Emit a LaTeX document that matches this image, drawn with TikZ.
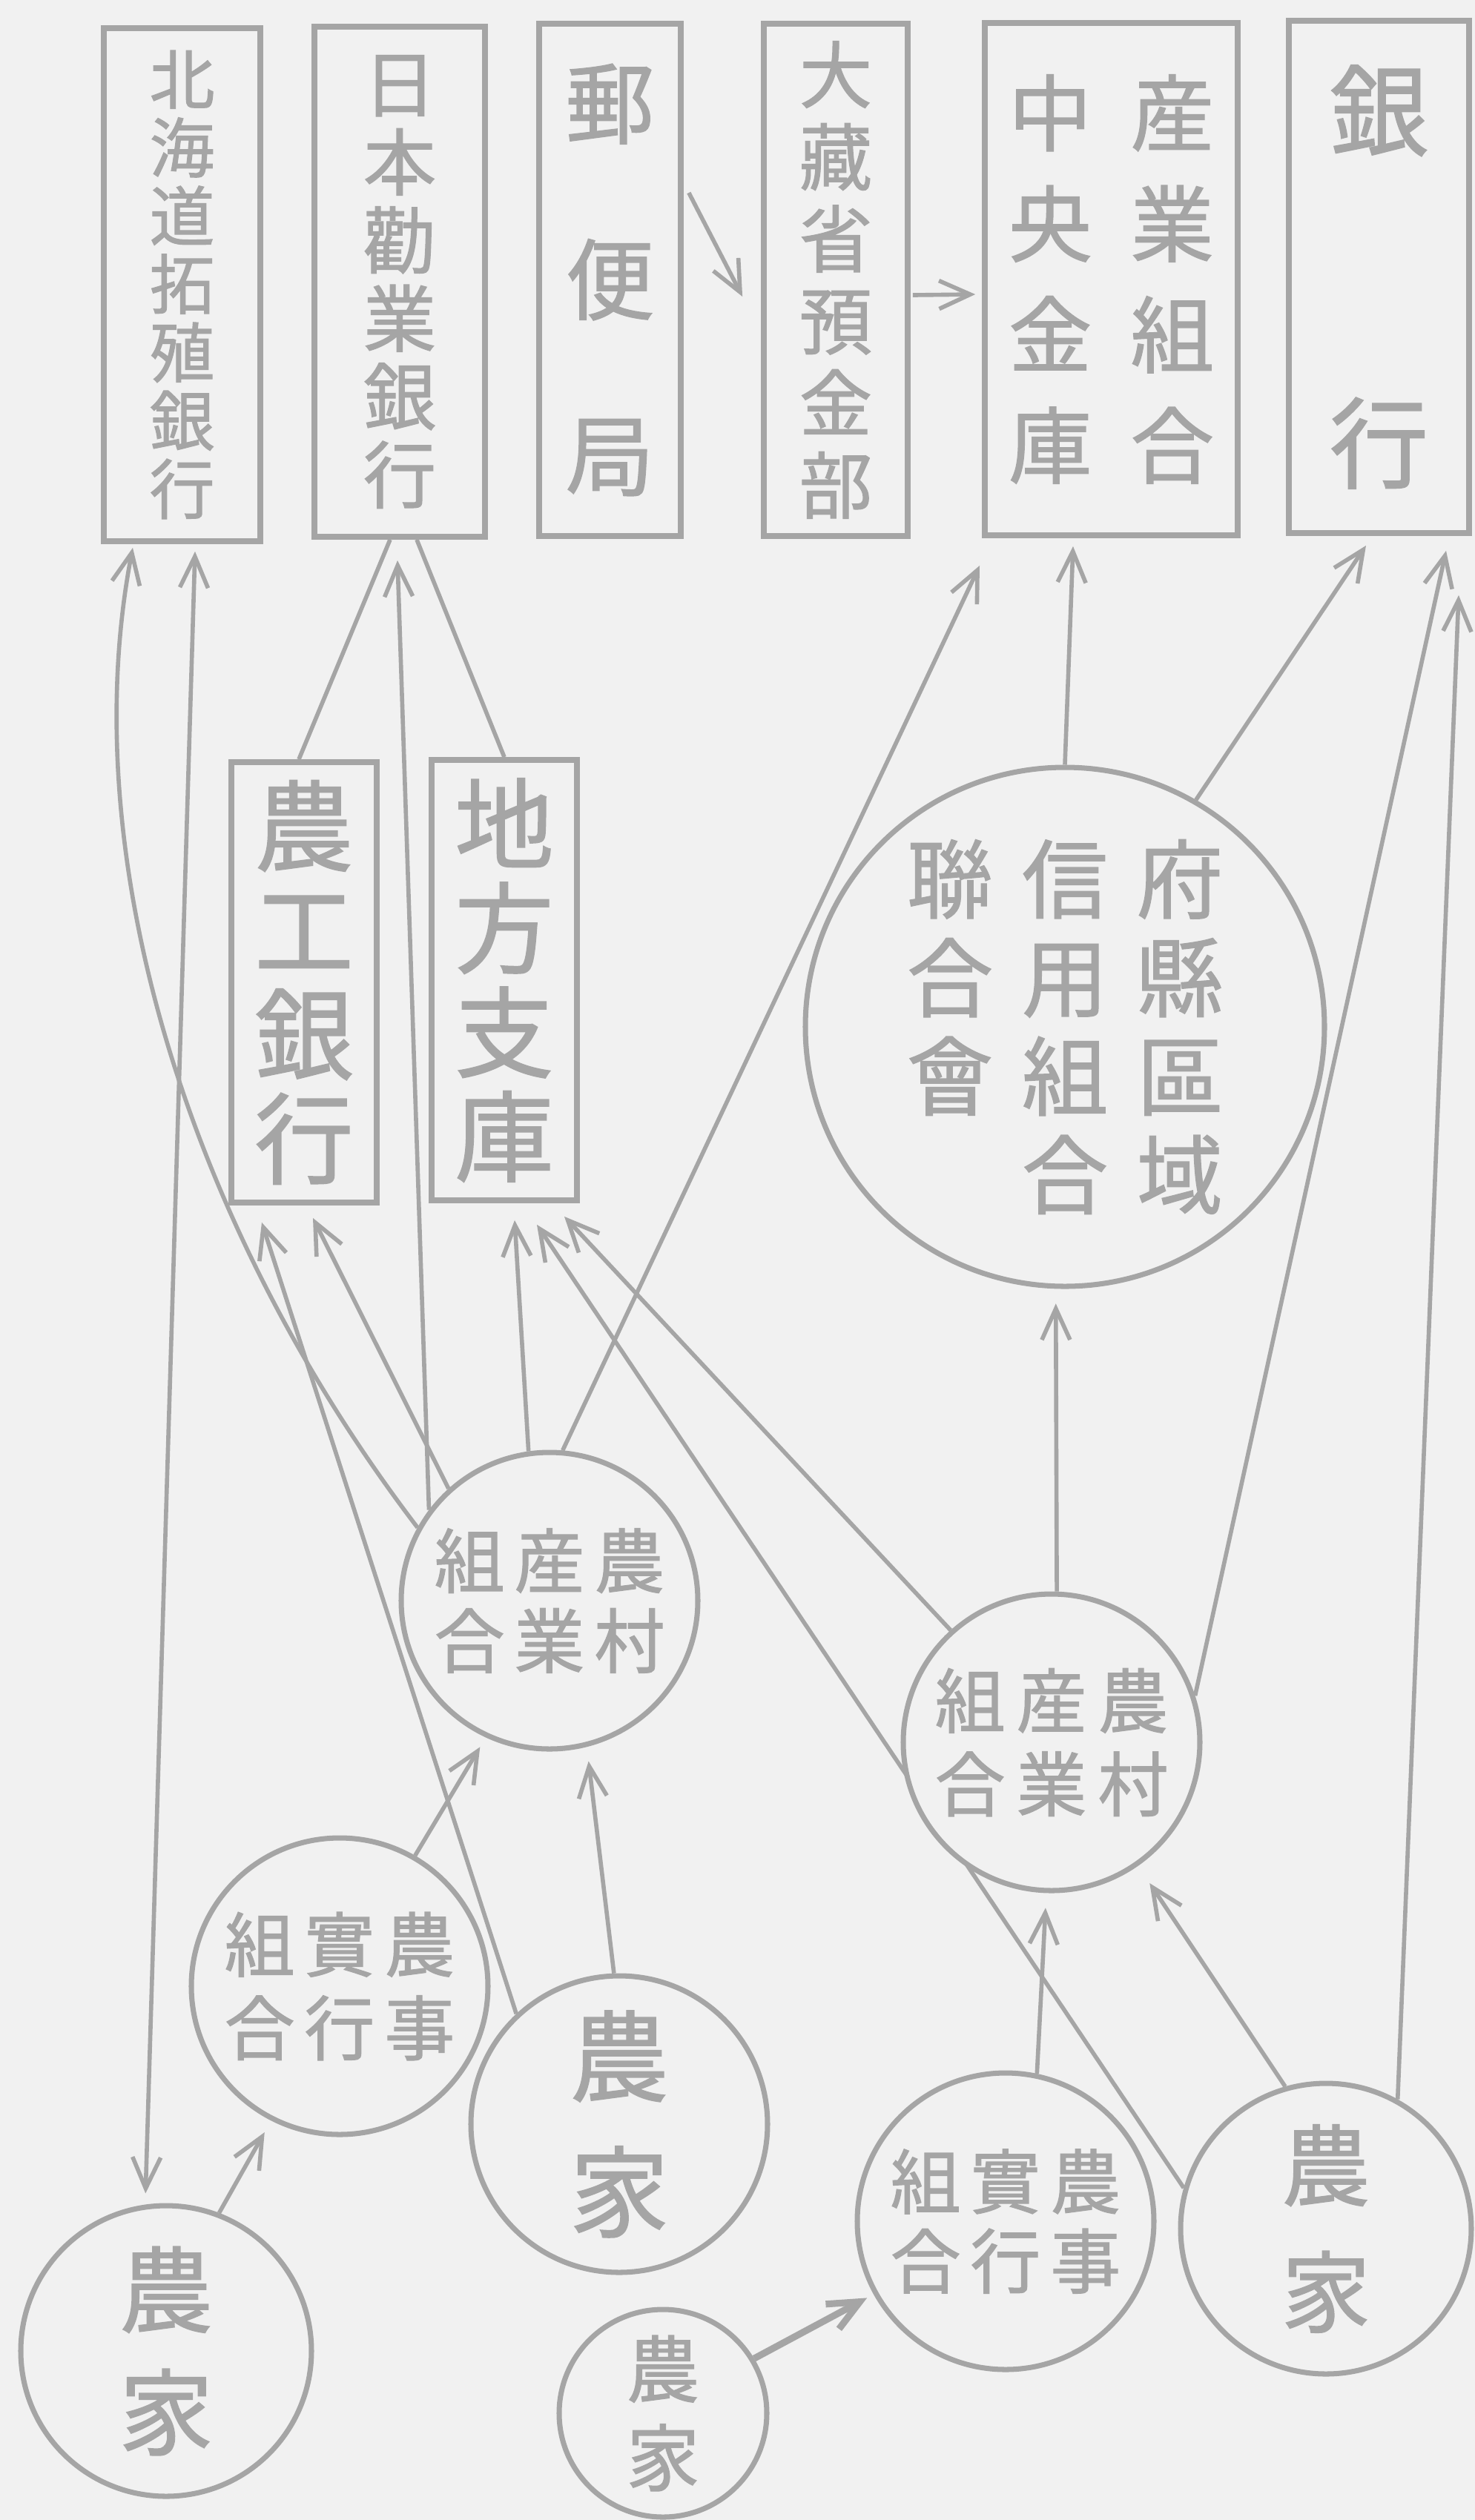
\documentclass[tikz,border=0pt]{standalone}
\usepackage{fontspec}
\newfontfamily\jp{Noto Sans CJK JP}[FakeBold=1.2]
\usetikzlibrary{shapes.geometric, arrows.meta}
\definecolor{ink}{RGB}{165,165,165}
\definecolor{paper}{RGB}{241,241,241}
\pgfdeclarelayer{paper}
\pgfdeclarelayer{lines}
\pgfsetlayers{paper,lines,main}
\tikzstyle{bank} = [rectangle, draw=ink, line width=2.2pt, fill=paper, text=ink, align=center, inner sep=0pt, minimum height=6.91cm]
\tikzstyle{group} = [circle, draw=ink, line width=2pt, fill=paper, text=ink, align=center, inner sep=0pt, minimum size=4cm]
\tikzstyle{arrow} = [draw=ink, line width=1.6pt, -{Straight Barb[length=4.2mm,width=3.8mm]}]
\tikzstyle{twoway} = [draw=ink, line width=1.6pt, {Straight Barb[length=4.2mm,width=3.8mm]}-{Straight Barb[length=4.2mm,width=3.8mm]}]
\tikzstyle{link} = [draw=ink, line width=1.6pt]

\begin{document}
\begin{tikzpicture}

\useasboundingbox (0,0) rectangle (19.89,-33.99);
\begin{pgfonlayer}{paper}
\fill [paper] (0,0) rectangle (19.89,-33.99);
\end{pgfonlayer}

% top row
\node (hokkaido) [bank, minimum width=2.11cm, minimum height=6.92cm, font=\jp\fontsize{25}{26.2}\selectfont] at (2.455,-3.84) {北\\海\\道\\拓\\殖\\銀\\行};
\node (kangyo) [bank, minimum width=2.30cm, minimum height=6.88cm, font=\jp\fontsize{28}{30}\selectfont] at (5.39,-3.80) {日\\本\\勸\\業\\銀\\行};
\node (yubin) [bank, minimum width=1.91cm, font=\jp\fontsize{34}{67.5}\selectfont] at (8.225,-3.775) {郵\\便\\局};
\node (okura) [bank, minimum width=1.94cm, font=\jp\fontsize{28}{31.5}\selectfont] at (11.27,-3.775) {大\\藏\\省\\預\\金\\部};
\node (chuo) [bank, minimum width=3.41cm, font=\jp\fontsize{32}{42.5}\selectfont] at (14.985,-3.765) {中\hspace{0.52cm}産\\央\hspace{0.52cm}業\\金\hspace{0.52cm}組\\庫\hspace{0.52cm}合};
\node (ginko) [bank, minimum width=2.43cm, font=\jp\fontsize{38}{127.6}\selectfont] at (18.595,-3.735) {銀\\行};

% middle
\node (noko) [bank, minimum width=1.96cm, minimum height=5.94cm, font=\jp\fontsize{38}{40}\selectfont] at (4.10,-13.25) {農\\工\\銀\\行};
\node (chiho) [bank, minimum width=1.96cm, minimum height=5.94cm, font=\jp\fontsize{38}{40}\selectfont] at (6.80,-13.22) {地\\方\\支\\庫};
\node (kenren) [group, minimum size=7cm, font=\jp\fontsize{33}{37.8}\selectfont] at (14.36,-13.85) {聯\hspace{0.39cm}信\hspace{0.39cm}府\\合\hspace{0.39cm}用\hspace{0.39cm}縣\\會\hspace{0.39cm}組\hspace{0.39cm}區\\\phantom{會}\hspace{0.39cm}合\hspace{0.39cm}域};

% cooperatives and farms
\node (coopL) [group, font=\jp\fontsize{27}{30.7}\selectfont] at (7.41,-21.59) {組\hspace{0.13cm}産\hspace{0.13cm}農\\合\hspace{0.13cm}業\hspace{0.13cm}村};
\node (coopR) [group, font=\jp\fontsize{27}{32}\selectfont] at (14.18,-23.50) {組\hspace{0.15cm}産\hspace{0.15cm}農\\合\hspace{0.15cm}業\hspace{0.15cm}村};
\node (assocL) [group, font=\jp\fontsize{27}{32}\selectfont] at (4.58,-26.79) {組\hspace{0.13cm}實\hspace{0.13cm}農\\合\hspace{0.13cm}行\hspace{0.13cm}事};
\node (assocR) [group, font=\jp\fontsize{27}{30.5}\selectfont] at (13.56,-29.96) {組\hspace{0.13cm}實\hspace{0.13cm}農\\合\hspace{0.13cm}行\hspace{0.13cm}事};
\node (farmM) [group, font=\jp\fontsize{38}{52}\selectfont] at (8.35,-28.65) {農\\家};
\node (farmBL) [group, minimum size=3.92cm, font=\jp\fontsize{36}{47}\selectfont] at (2.24,-31.71) {農\\家};
\node (farmS) [group, minimum size=2.8cm, font=\jp\fontsize{28}{34}\selectfont] at (8.94,-32.55) {農\\家};
\node (farmR) [group, minimum size=3.92cm, font=\jp\fontsize{34}{48.5}\selectfont] at (17.88,-30.06) {農\\家};

\begin{pgfonlayer}{lines}
\draw [arrow] ([xshift=0.07cm,yshift=1.175cm]yubin.east) -- ([xshift=-0.25cm,yshift=-0.225cm]okura.west);
\draw [arrow] ([xshift=0.03cm,yshift=-0.205cm]okura.east) -- ([xshift=-0.09cm,yshift=-0.205cm]chuo.west);
\draw [link] ([xshift=-0.13cm]kangyo.south) -- ([xshift=-0.07cm]noko.north);
\draw [link] ([xshift=0.23cm]kangyo.south) -- (chiho.north);

\draw [arrow] (coopL.151) .. controls (2.5,-16.5) and (1.0,-11.5) .. ([xshift=-0.665cm,yshift=-0.05cm]hokkaido.south);
\draw [twoway] ([xshift=0.175cm,yshift=-0.1cm]hokkaido.south) -- ([yshift=0.15cm]farmBL.98);
\draw [arrow] (coopL.143) -- ([xshift=-0.03cm,yshift=-0.28cm]kangyo.south);
\draw [arrow] (coopL.132) -- ([xshift=0.12cm,yshift=-0.17cm]noko.south);
\draw [arrow] (farmM.133) -- ([xshift=-0.57cm,yshift=-0.23cm]noko.south);
\draw [arrow] (coopL.98) -- ([xshift=0.14cm,yshift=-0.23cm]chiho.south);
\draw [arrow] (coopL.85) -- ([xshift=-1.775cm,yshift=-0.37cm]chuo.south);
\draw [arrow] (farmR.164) -- ([xshift=0.44cm,yshift=-0.29cm]chiho.south);
\draw [arrow] (coopR.132) -- ([xshift=0.81cm,yshift=-0.18cm]chiho.south);

\draw [arrow] (kenren.90) -- ([xshift=-0.515cm,yshift=-0.11cm]chuo.south);
\draw [arrow] (kenren.60) -- ([xshift=-0.175cm,yshift=-0.13cm]ginko.south);
\draw [arrow] (coopR.18) -- ([xshift=0.905cm,yshift=-0.2cm]ginko.south);
\draw [arrow] (farmR.61) -- ([xshift=1.075cm,yshift=-0.8cm]ginko.south);
\draw [arrow, shorten >=0.2cm] (coopR.88) -- (kenren.268);

\draw [arrow] (farmM.92) -- ([yshift=-0.2cm]coopL.285);
\draw [arrow, shorten >=0.15cm] (assocL.60) -- (coopL.245);
\draw [arrow, shorten >=0.18cm] (farmBL.69) -- (assocL.243);
\draw [arrow, shorten >=0.2cm] (assocR.78) -- (coopR.268);
\draw [arrow, shorten >=0.28cm] (farmR.106) -- (coopR.305);
\draw [arrow, line width=2.6pt, shorten >=0.1cm] (farmS.31) -- (assocR.209);
\end{pgfonlayer}

\end{tikzpicture}
\end{document}
